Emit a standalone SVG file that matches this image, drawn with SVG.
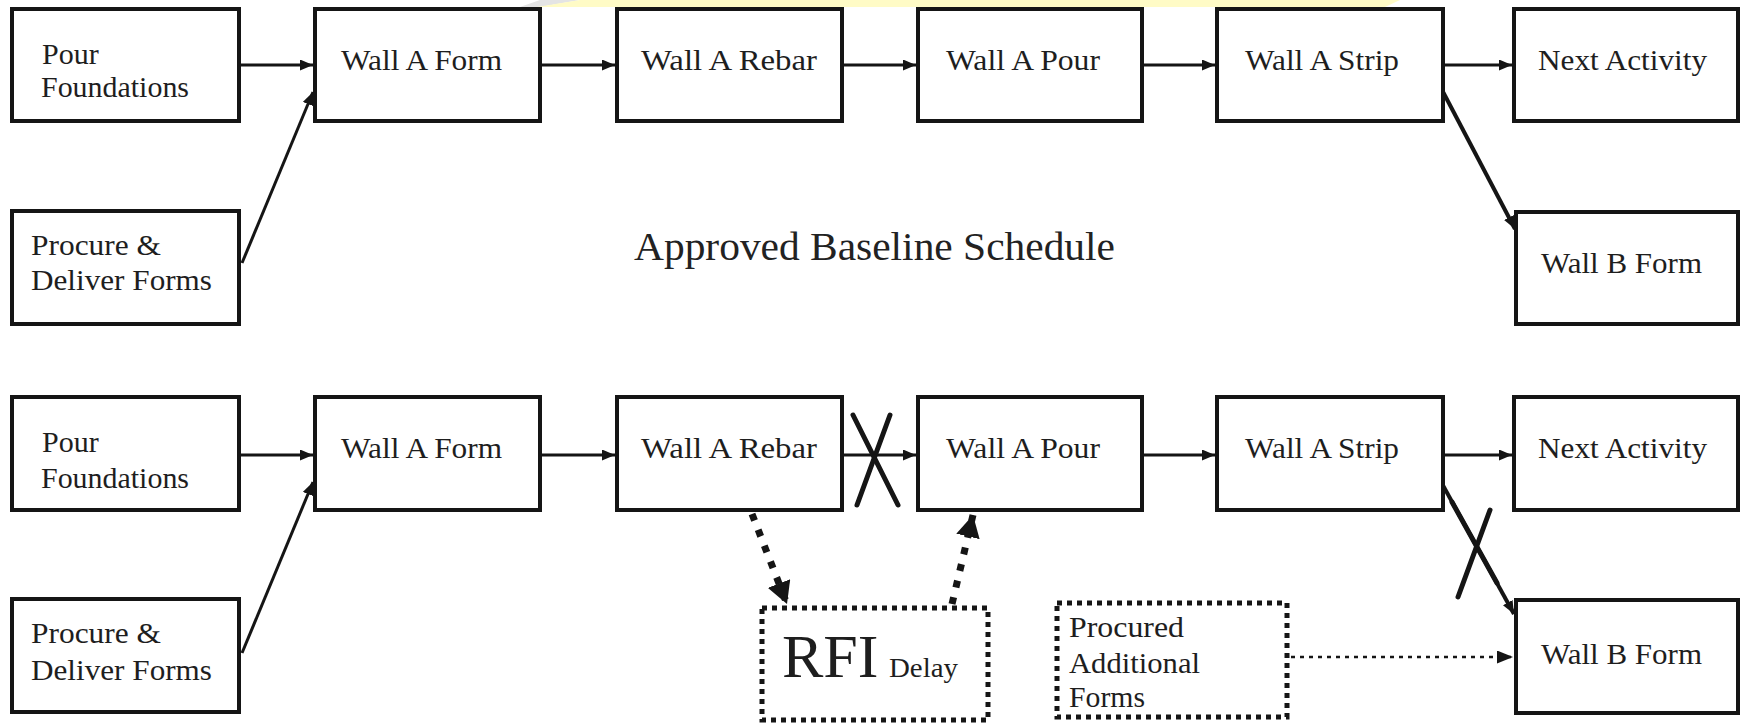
<svg xmlns="http://www.w3.org/2000/svg" width="1743" height="726" viewBox="0 0 1743 726">
<defs>
<style>
.box{fill:#fff;stroke:#151515;stroke-width:4}
.dbox{fill:#fff;stroke:#151515;stroke-width:5;stroke-dasharray:5 5}
.lbl{font-family:"Liberation Serif","Times New Roman",serif;font-size:30px;fill:#1e1e1e}
.sm{font-size:29px}
.title{font-family:"Liberation Serif","Times New Roman",serif;font-size:41px;fill:#222}
.ln{fill:none;stroke:#151515;stroke-width:3}
.lnb{fill:none;stroke:#151515;stroke-width:4}
.cross{fill:none;stroke:#151515;stroke-width:5;stroke-linecap:round}
.dots{fill:none;stroke:#151515;stroke-width:7;stroke-dasharray:7 10}
.tdots{fill:none;stroke:#151515;stroke-width:2.5;stroke-dasharray:4 5}
</style>
<marker id="arr" markerUnits="userSpaceOnUse" markerWidth="13" markerHeight="11" refX="13" refY="5.5" orient="auto"><path d="M0,0 L13,5.5 L0,11 z" fill="#151515"/></marker>
<marker id="arrBig" markerUnits="userSpaceOnUse" markerWidth="24" markerHeight="24" refX="22" refY="12" orient="auto"><path d="M0,0 L22,12 L0,24 z" fill="#151515"/></marker>
<marker id="arrThin" markerUnits="userSpaceOnUse" markerWidth="16" markerHeight="13" refX="16" refY="6.5" orient="auto"><path d="M0,0 L16,6.5 L0,13 z" fill="#151515"/></marker>
</defs>
<rect width="1743" height="726" fill="#fff"/>
<polygon points="520,7 540,0 580,0 540,7" fill="#e4e4e4"/>
<polygon points="537,7 580,0 1400,0 1385,7" fill="#fffbc6"/>

<g id="connectors">
<line class="ln" x1="241" y1="65" x2="313" y2="65" marker-end="url(#arr)"/>
<line class="ln" x1="242" y1="263" x2="313" y2="92" marker-end="url(#arr)"/>
<line class="ln" x1="542" y1="65" x2="615" y2="65" marker-end="url(#arr)"/>
<line class="ln" x1="844" y1="65" x2="916" y2="65" marker-end="url(#arr)"/>
<line class="ln" x1="1144" y1="65" x2="1215" y2="65" marker-end="url(#arr)"/>
<line class="ln" x1="1445" y1="65" x2="1512" y2="65" marker-end="url(#arr)"/>
<line class="lnb" x1="1441" y1="88" x2="1515" y2="229" marker-end="url(#arr)"/>
<line class="ln" x1="241" y1="455" x2="313" y2="455" marker-end="url(#arr)"/>
<line class="ln" x1="242" y1="653" x2="313" y2="482" marker-end="url(#arr)"/>
<line class="ln" x1="542" y1="455" x2="615" y2="455" marker-end="url(#arr)"/>
<line class="ln" x1="844" y1="455" x2="916" y2="455" marker-end="url(#arr)"/>
<line class="ln" x1="1144" y1="455" x2="1215" y2="455" marker-end="url(#arr)"/>
<line class="ln" x1="1445" y1="455" x2="1512" y2="455" marker-end="url(#arr)"/>
<line class="lnb" x1="1440" y1="480" x2="1514" y2="614" marker-end="url(#arr)"/>
<line class="dots" x1="752" y1="514" x2="787" y2="604" marker-end="url(#arrBig)"/>
<line class="dots" x1="952" y1="604" x2="973" y2="515" marker-end="url(#arrBig)"/>
<line class="tdots" x1="1291" y1="657" x2="1513" y2="657" marker-end="url(#arrThin)"/>
<line class="cross" x1="853" y1="415" x2="898" y2="505"/>
<line class="cross" x1="890" y1="415" x2="857" y2="505"/>
<line class="cross" x1="1490" y1="510" x2="1458" y2="597"/>
<line class="cross" x1="1452" y1="502" x2="1497" y2="583"/>
</g>

<text class="title" x="634" y="260" textLength="481" lengthAdjust="spacingAndGlyphs">Approved Baseline Schedule</text>

<g id="t-pour-foundations"><rect class="box" x="12" y="9" width="227" height="112"/><text class="lbl" x="42" y="64">Pour</text><text class="lbl" x="41" y="97" textLength="148" lengthAdjust="spacingAndGlyphs">Foundations</text></g>
<g id="t-procure"><rect class="box" x="12" y="211" width="227" height="113"/><text class="lbl" x="31" y="255" textLength="130" lengthAdjust="spacingAndGlyphs">Procure &amp;</text><text class="lbl" x="31" y="290" textLength="181" lengthAdjust="spacingAndGlyphs">Deliver Forms</text></g>
<g id="t-wall-a-form"><rect class="box" x="315" y="9" width="225" height="112"/><text class="lbl" x="341" y="70" textLength="161" lengthAdjust="spacingAndGlyphs">Wall A Form</text></g>
<g id="t-wall-a-rebar"><rect class="box" x="617" y="9" width="225" height="112"/><text class="lbl" x="641" y="70" textLength="176" lengthAdjust="spacingAndGlyphs">Wall A Rebar</text></g>
<g id="t-wall-a-pour"><rect class="box" x="918" y="9" width="224" height="112"/><text class="lbl" x="946" y="70" textLength="154" lengthAdjust="spacingAndGlyphs">Wall A Pour</text></g>
<g id="t-wall-a-strip"><rect class="box" x="1217" y="9" width="226" height="112"/><text class="lbl" x="1245" y="70" textLength="154" lengthAdjust="spacingAndGlyphs">Wall A Strip</text></g>
<g id="t-next-activity"><rect class="box" x="1514" y="9" width="224" height="112"/><text class="lbl" x="1538" y="70" textLength="169" lengthAdjust="spacingAndGlyphs">Next Activity</text></g>
<g id="t-wall-b-form"><rect class="box" x="1516" y="212" width="222" height="112"/><text class="lbl" x="1541" y="273" textLength="161" lengthAdjust="spacingAndGlyphs">Wall B Form</text></g>

<g id="b-pour-foundations"><rect class="box" x="12" y="397" width="227" height="113"/><text class="lbl" x="42" y="452">Pour</text><text class="lbl" x="41" y="488" textLength="148" lengthAdjust="spacingAndGlyphs">Foundations</text></g>
<g id="b-procure"><rect class="box" x="12" y="599" width="227" height="113"/><text class="lbl" x="31" y="643" textLength="130" lengthAdjust="spacingAndGlyphs">Procure &amp;</text><text class="lbl" x="31" y="680" textLength="181" lengthAdjust="spacingAndGlyphs">Deliver Forms</text></g>
<g id="b-wall-a-form"><rect class="box" x="315" y="397" width="225" height="113"/><text class="lbl" x="341" y="458" textLength="161" lengthAdjust="spacingAndGlyphs">Wall A Form</text></g>
<g id="b-wall-a-rebar"><rect class="box" x="617" y="397" width="225" height="113"/><text class="lbl" x="641" y="458" textLength="176" lengthAdjust="spacingAndGlyphs">Wall A Rebar</text></g>
<g id="b-wall-a-pour"><rect class="box" x="918" y="397" width="224" height="113"/><text class="lbl" x="946" y="458" textLength="154" lengthAdjust="spacingAndGlyphs">Wall A Pour</text></g>
<g id="b-wall-a-strip"><rect class="box" x="1217" y="397" width="226" height="113"/><text class="lbl" x="1245" y="458" textLength="154" lengthAdjust="spacingAndGlyphs">Wall A Strip</text></g>
<g id="b-next-activity"><rect class="box" x="1514" y="397" width="224" height="113"/><text class="lbl" x="1538" y="458" textLength="169" lengthAdjust="spacingAndGlyphs">Next Activity</text></g>
<g id="b-wall-b-form"><rect class="box" x="1516" y="600" width="222" height="113"/><text class="lbl" x="1541" y="664" textLength="161" lengthAdjust="spacingAndGlyphs">Wall B Form</text></g>
<g id="rfi-delay"><rect class="dbox" x="762" y="608" width="226" height="112"/><text x="782" y="677" style="font-family:'Liberation Serif','Times New Roman',serif;font-size:62px;fill:#1e1e1e">RFI</text><text x="889" y="677" textLength="69" lengthAdjust="spacingAndGlyphs" style="font-family:'Liberation Serif','Times New Roman',serif;font-size:27px;fill:#1e1e1e">Delay</text></g>
<g id="procured-forms"><rect class="dbox" x="1057" y="603" width="230" height="114"/><text class="lbl sm" x="1069" y="637" textLength="115" lengthAdjust="spacingAndGlyphs">Procured</text><text class="lbl sm" x="1069" y="673" textLength="131" lengthAdjust="spacingAndGlyphs">Additional</text><text class="lbl sm" x="1069" y="707" textLength="76" lengthAdjust="spacingAndGlyphs">Forms</text></g>
</svg>
